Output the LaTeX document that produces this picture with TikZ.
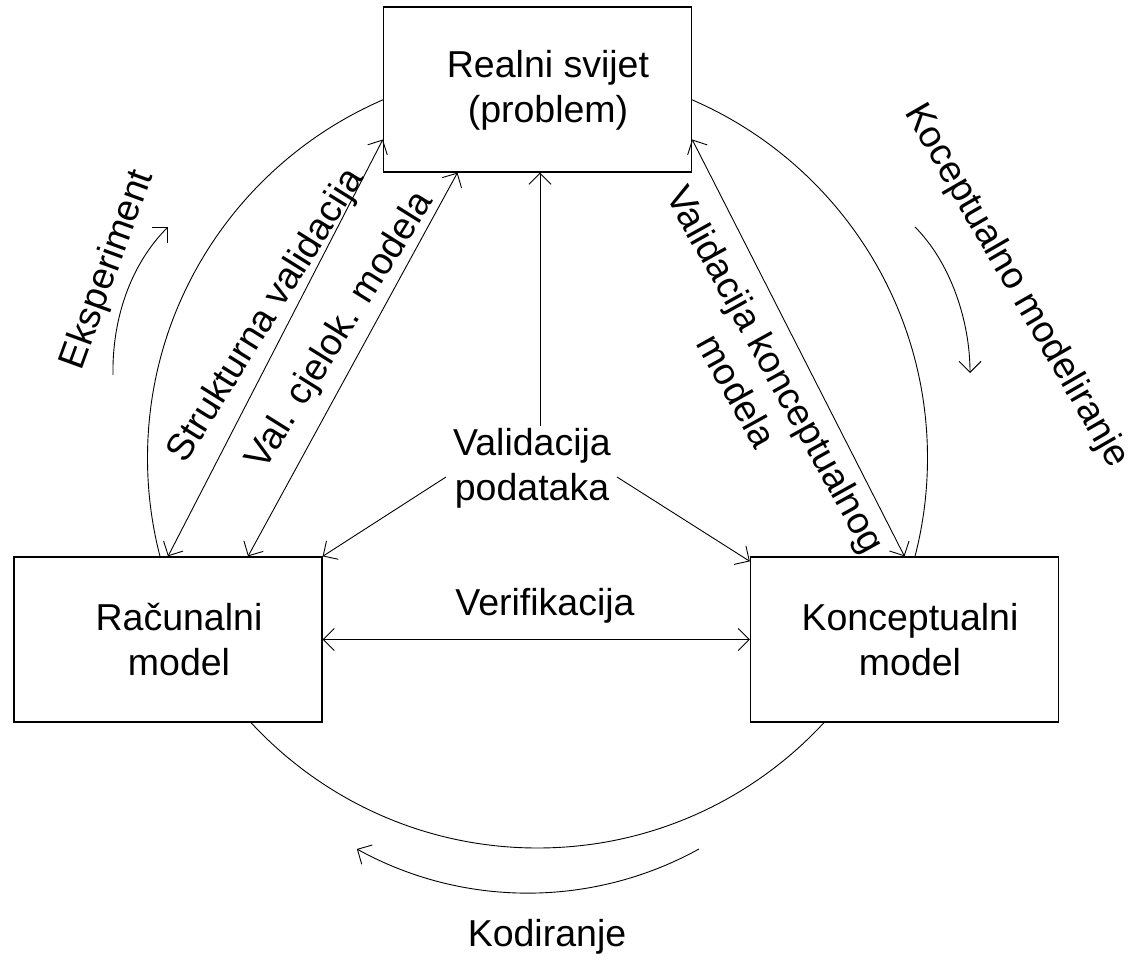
\documentclass[tikz,border=0pt]{standalone}
\usepackage{fontspec}
\setmainfont{Liberation Sans}
\usetikzlibrary{arrows.meta}
\begin{document}
\begin{tikzpicture}[x=1pt,y=1pt,
  >={Straight Barb[length=11pt,width=22pt]},
  every node/.style={font=\fontsize{37.5}{45}\selectfont},
  box/.style={draw, line width=1.3pt, fill=white, minimum width=308pt, minimum height=165pt, inner sep=0pt},
  txt/.style={align=center, inner sep=0pt},
  ln/.style={line width=0.9pt}]
\useasboundingbox (0,0) rectangle (1136,-960);
% background cycle
\draw[ln] (537.5,-458) circle[radius=390pt];
% boxes
\node[box] (real) at (537.5,-89.5) {};
\node[box] (rm) at (168,-639.5) {};
\node[box] (km) at (904.5,-639.5) {};
\node[txt] (realt) at (548,-90) {Realni svijet\\(problem)};
\node[txt] (rmt) at (179,-640) {Računalni\\model};
\node[txt] (kmt) at (910,-640) {Konceptualni\\model};
% labels
\node[txt] (vp) at (532,-468) {Validacija\\podataka};
\node[txt] (ver) at (545,-606) {Verifikacija};
\node[txt] (kod) at (547,-937) {Kodiranje};
\node[txt, rotate=70] (eks) at (108,-270) {Eksperiment};
\node[txt, rotate=-60] (kcm) at (1016,-286) {Koceptualno modeliranje};
\node[txt, rotate=58] (sv) at (267,-316) {Strukturna validacija};
\node[txt, rotate=58] (vcm) at (341,-331) {Val. cjelok. modela};
\node[txt, rotate=-61] (vkm) at (757,-380) {Validacija konceptualnog\\modela};
% connector end points
\coordinate (vpt) at (540,-426);
\coordinate (vpl) at (446,-477);
\coordinate (vpr) at (617,-477);
\coordinate (eksA) at (113,-375);
\coordinate (eksB) at (168,-227);
\coordinate (kcmA) at (915,-227);
\coordinate (kcmB) at (970,-373);
\coordinate (kodA) at (699,-849);
% connectors
\draw[ln,->] (vpt) -- (vpt |- real.south);
\draw[ln,->] (vpl) -- (rm.north east);
\draw[ln,->] (vpr) -- ([yshift=-5pt]km.north west);
\draw[ln,<->] (rm.east) -- (km.west);
\draw[ln,<->] (rm.north) -- ([yshift=-50pt]real.west);
\draw[ln,<->] ([xshift=80pt]rm.north) -- ([xshift=-80pt]real.south);
\draw[ln,<->] (km.north) -- ([yshift=-50pt]real.east);
% cycle direction arrows
\draw[ln,->] (eksA) .. controls (112,-320) and (130,-265) .. (eksB);
\draw[ln,->] (kcmA) .. controls (950,-262) and (970,-320) .. (kcmB);
\draw[ln,->] (kodA) arc[start angle=-61.1, end angle=-118.9, radius=354pt];
\end{tikzpicture}
\end{document}
